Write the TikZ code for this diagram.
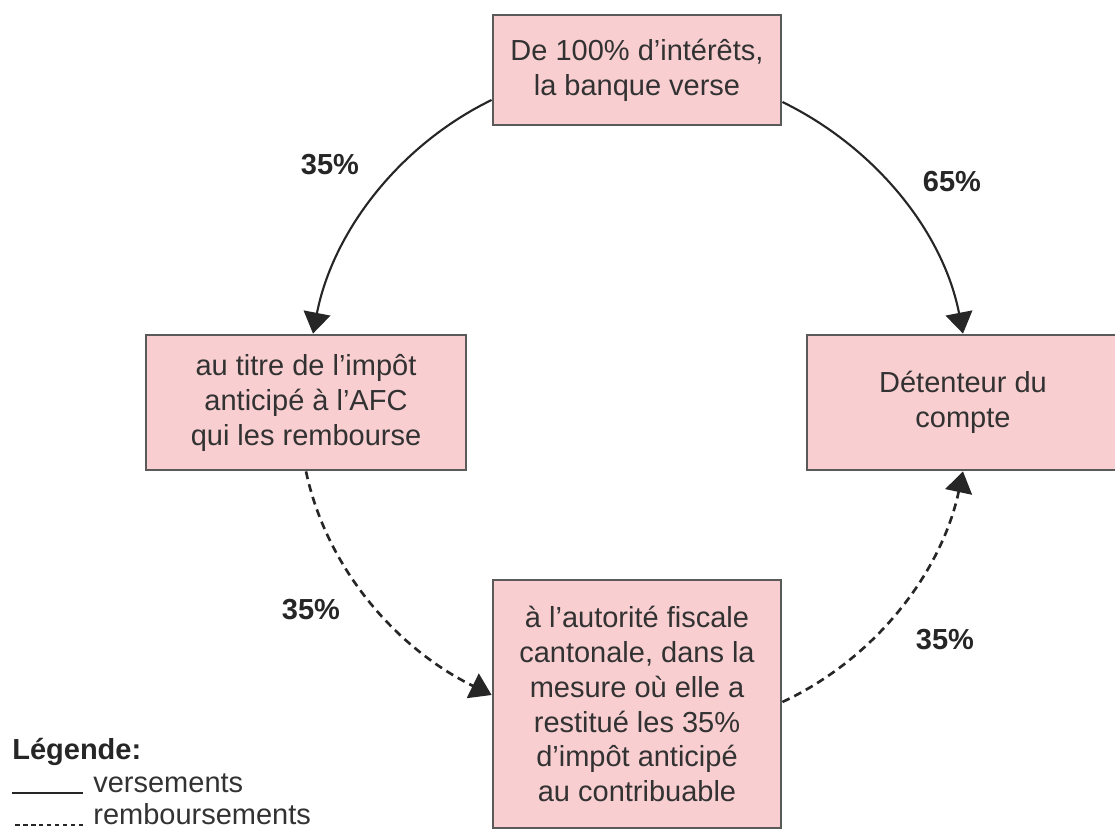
\documentclass[tikz,border=0pt]{standalone}
\usepackage{fontspec}
\setmainfont{Liberation Sans}
\usetikzlibrary{arrows.meta}
\definecolor{boxPink}{RGB}{248,206,208}
\definecolor{boxEdge}{RGB}{90,90,90}
\definecolor{txtGray}{RGB}{50,50,50}
\tikzset{
    flowBox/.style={rectangle, draw=boxEdge, fill=boxPink, line width=1.6pt, align=center, text=txtGray, inner sep=0pt, font=\fontsize{16.5}{19.9}\selectfont},
    versLine/.style={->, line width=1.2pt, draw=black!85},
    rembLine/.style={->, line width=1.5pt, draw=black!85, dash pattern=on 4.5pt off 3pt},
    pctLabel/.style={font=\fontsize{16.5}{19.9}\selectfont\bfseries, text=black!85, inner sep=0pt},
    legText/.style={font=\fontsize{16.5}{19.9}\selectfont, text=txtGray, inner sep=0pt}
}
\begin{document}
\begin{tikzpicture}[>={Triangle[length=4.2mm, width=5.4mm]}]
    \useasboundingbox (0,0) rectangle (22.3,16.6);
    % --- Boxes ---
    \node[flowBox, minimum width=5.76cm, minimum height=2.2cm] (bank) at (12.74,15.2) {De 100\% d’intérêts,\\la banque verse};
    \node[flowBox, minimum width=6.4cm, minimum height=2.7cm] (afc) at (6.12,8.55) {au titre de l’impôt\\anticipé à l’AFC\\qui les rembourse};
    \node[flowBox, minimum width=6.24cm, minimum height=2.7cm] (holder) at (19.26,8.55) {Détenteur du\\compte};
    \node[flowBox, minimum width=5.76cm, minimum height=4.96cm] (canton) at (12.74,2.52) {à l’autorité fiscale\\cantonale, dans la\\mesure où elle a\\restitué les 35\%\\d’impôt anticipé\\au contribuable};
    % --- Flows ---
    \draw[versLine] ([yshift=-0.6cm]bank.west) to[out=206, in=79, looseness=0.9] ([xshift=0.14cm]afc.north);
    \draw[versLine] ([yshift=-0.64cm]bank.east) to[out=-26, in=101, looseness=0.9] (holder.north);
    \draw[rembLine] (afc.south) to[out=-78, in=154, looseness=0.9] ([yshift=0.18cm]canton.west);
    \draw[rembLine] ([yshift=0.04cm]canton.east) to[out=25, in=-102, looseness=0.9] (holder.south);
    % --- Percentages ---
    \node[pctLabel] (pctAfc) at (6.6,13.3) {35\%};
    \node[pctLabel] (pctHolder) at (19.04,12.96) {65\%};
    \node[pctLabel] (pctBack) at (6.22,4.4) {35\%};
    \node[pctLabel] (pctCanton) at (18.9,3.8) {35\%};
    % --- Legend ---
    \node[pctLabel, anchor=west] (legTitle) at (0.24,1.56) {Légende:};
    \node[legText, anchor=base west] (legVers) at (1.86,0.74) {versements};
    \node[legText, anchor=base west] (legRemb) at (1.86,0.1) {remboursements};
    \draw[line width=1.2pt, black!85] ([xshift=-0.2cm]legVers.base west) -- ++(-1.42,0);
    \draw[line width=1.5pt, black!85, dash pattern=on 2.5pt off 2pt] ([xshift=-0.2cm]legRemb.base west) -- ++(-1.42,0);
\end{tikzpicture}
\end{document}
